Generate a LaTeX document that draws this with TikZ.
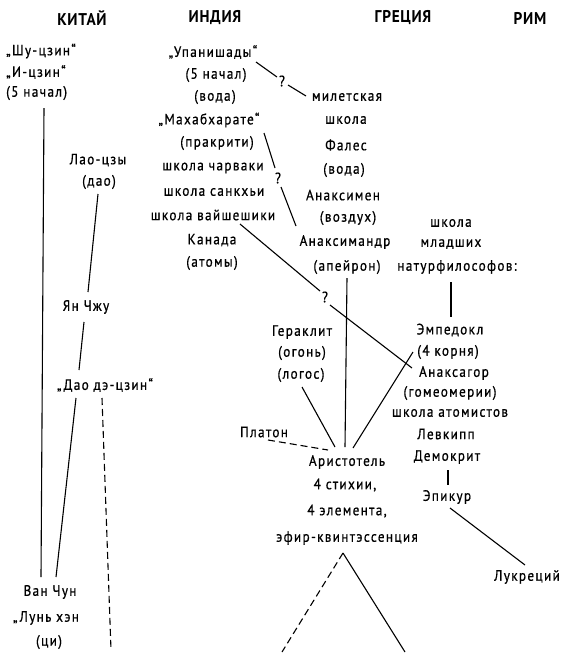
\documentclass[tikz,border=0pt]{standalone}
\usepackage{fontspec}
\setmainfont{PT Sans}
\newfontfamily\txtfont[LetterSpace=9,FakeBold=0.7,FakeStretch=0.88]{PT Sans}
\newfontfamily\hdrfont[LetterSpace=4,FakeStretch=0.9]{PT Sans}
\begin{document}
\begin{tikzpicture}[x=1pt,y=-1pt,
  t/.style={font=\fontsize{15}{17}\txtfont, inner sep=0pt},
  h/.style={font=\fontsize{17}{19}\hdrfont\bfseries, inner sep=0pt},
  q/.style={font=\fontsize{15}{17}\txtfont, inner sep=0pt},
  ln/.style={line width=1.1pt},
  dsh/.style={line width=1.1pt, dash pattern=on 7pt off 4pt}]
\useasboundingbox[fill=white] (0,0) rectangle (563,657);
% headers
\node[h] (hChina) at (82,18) {КИТАЙ};
\node[h] (hIndia) at (215,18) {ИНДИЯ};
\node[h] (hGreece) at (403,18) {ГРЕЦИЯ};
\node[h] (hRome) at (530,18) {РИМ};
% China
\node[t,anchor=west] (shu) at (6,51) {„Шу-цзин“};
\node[t,anchor=west] (izin) at (6,72) {„И-цзин“};
\node[t,anchor=west] (fiveA) at (6,93) {(5 начал)};
\node[t] (lao) at (98,160) {Лао-цзы};
\node[t] (dao) at (99,182) {(дао)};
\node[t] (yan) at (86,307) {Ян Чжу};
\node[t] (daode) at (105,385) {„Дао дэ-цзин“};
\node[t] (van) at (50,592) {Ван Чун};
\node[t] (lun) at (46,618) {„Лунь хэн};
\node[t] (qi) at (49,642) {(ци)};
% India
\node[t] (upa) at (213,52) {„Упанишады“};
\node[t] (fiveB) at (216,75) {(5 начал)};
\node[t] (vodaA) at (215,97) {(вода)};
\node[t] (maha) at (209,120) {„Махабхарате“};
\node[t] (prak) at (217,143) {(пракрити)};
\node[t] (charv) at (213,168) {школа чарваки};
\node[t] (sankh) at (214,192) {школа санкхьи};
\node[t] (vaish) at (213,215) {школа вайшешики};
\node[t] (kanada) at (212,240) {Канада};
\node[t] (atomy) at (212,263) {(атомы)};
% Greece
\node[t] (milet) at (347,97) {милетская};
\node[t] (shkA) at (346,120) {школа};
\node[t] (fales) at (346,145) {Фалес};
\node[t] (vodaB) at (344,170) {(вода)};
\node[t] (anaxm) at (343,195) {Анаксимен};
\node[t] (vozd) at (348,218) {(воздух)};
\node[t] (anaxd) at (345,242) {Анаксимандр};
\node[t] (apei) at (347,267) {(апейрон)};
\node[t] (gerak) at (302,332) {Гераклит};
\node[t] (ogon) at (302,353) {(огонь)};
\node[t] (logos) at (301,375) {(логос)};
\node[t] (platon) at (264,432) {Платон};
\node[t] (arist) at (347,462) {Аристотель};
\node[t] (stih) at (345,485) {4 стихии,};
\node[t] (elem) at (347,511) {4 элемента,};
\node[t] (efir) at (347,538) {эфир-квинтэссенция};
% young natural philosophers
\node[t] (shkB) at (451,223) {школа};
\node[t] (mlad) at (451,244) {младших};
\node[t] (natur) at (457,267) {натурфилософов:};
\node[t] (emped) at (450,330) {Эмпедокл};
\node[t] (korn) at (448,352) {(4 корня)};
\node[t] (anaxg) at (454,373) {Анаксагор};
\node[t] (gomeo) at (450,393) {(гомеомерии)};
\node[t] (atomist) at (450,413) {школа атомистов};
\node[t] (levk) at (446,434) {Левкипп};
\node[t] (demok) at (447,457) {Демокрит};
\node[t] (epik) at (447,497) {Эпикур};
\node[t] (lukr) at (527,577) {Лукреций};
% question marks
\node[q] (qA) at (282,81) {?};
\node[q] (qB) at (278,178) {?};
\node[q] (qC) at (325,297) {?};
% endpoints
\coordinate (c1) at (44,108); \coordinate (c2) at (41,577);
\coordinate (c3) at (98,194); \coordinate (c4) at (88,292);
\coordinate (c5) at (84,322); \coordinate (c6) at (79,370);
\coordinate (c7) at (76,398); \coordinate (c8) at (56,577);
\coordinate (c9) at (102,398); \coordinate (c10) at (111,650);
\coordinate (u1) at (256,62); \coordinate (u2) at (277,77);
\coordinate (u3) at (288,85); \coordinate (u4) at (306,96);
\coordinate (m1) at (264,133); \coordinate (m2) at (275,168);
\coordinate (m3) at (281,187); \coordinate (m4) at (296,226);
\coordinate (v1) at (240,224); \coordinate (v2) at (320,291);
\coordinate (v3) at (330,305); \coordinate (v4) at (412,368);
\coordinate (g1) at (347,278); \coordinate (g2) at (345,447);
\coordinate (g3) at (302,387); \coordinate (g4) at (335,447);
\coordinate (g5) at (268,440); \coordinate (g6) at (328,450);
\coordinate (g7) at (353,448); \coordinate (g8) at (413,352);
\coordinate (a0) at (343,553); \coordinate (a1) at (282,652); \coordinate (a2) at (405,652);
\coordinate (n1) at (451,282); \coordinate (n2) at (451,317);
\coordinate (d1) at (448,470); \coordinate (d2) at (448,485);
\coordinate (e1) at (450,508); \coordinate (e2) at (525,565);
% connectors
\draw[ln] (c1) -- (c2);
\draw[ln] (c3) -- (c4);
\draw[ln] (c5) -- (c6);
\draw[ln] (c7) -- (c8);
\draw[dsh] (c9) -- (c10);
\draw[ln] (u1) -- (u2);
\draw[ln] (u3) -- (u4);
\draw[ln] (m1) -- (m2);
\draw[ln] (m3) -- (m4);
\draw[ln] (v1) -- (v2);
\draw[ln] (v3) -- (v4);
\draw[ln] (g1) -- (g2);
\draw[ln] (g3) -- (g4);
\draw[dsh] (g5) -- (g6);
\draw[ln] (g7) -- (g8);
\draw[dsh] (a0) -- (a1);
\draw[ln] (a0) -- (a2);
\draw[ln] (n1) -- (n2);
\draw[ln] (d1) -- (d2);
\draw[ln] (e1) -- (e2);
\end{tikzpicture}
\end{document}
